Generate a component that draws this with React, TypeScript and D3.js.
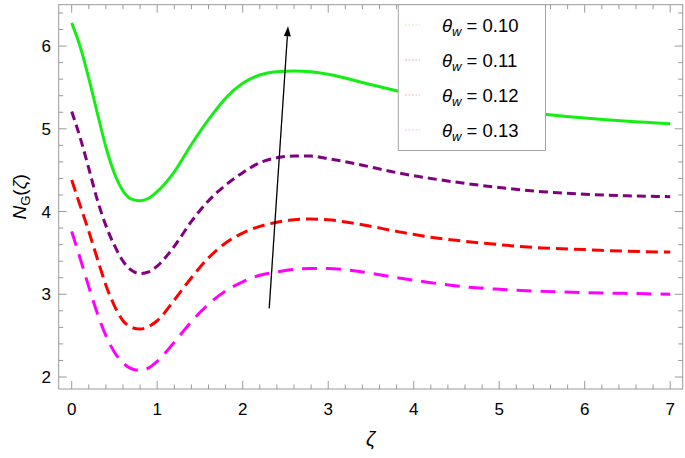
import * as d3 from 'd3'

// sample positions along zeta, shared by all four curves
const zeta = [0, 0.1, 0.2, 0.3, 0.4, 0.5, 0.6, 0.7, 0.8, 0.9, 1.0, 1.2, 1.4, 1.6, 1.8, 2.0, 2.2, 2.4, 2.6, 2.8, 3.0, 3.4, 3.8, 4.2, 4.6, 5.0, 5.5, 6.0, 6.5, 7.0]

const ng010 = [6.28, 5.99, 5.61, 5.19, 4.78, 4.46, 4.25, 4.15, 4.13, 4.16, 4.24, 4.48, 4.81, 5.11, 5.37, 5.55, 5.65, 5.69, 5.7, 5.69, 5.66, 5.56, 5.46, 5.37, 5.3, 5.24, 5.18, 5.13, 5.09, 5.06]
const ng011 = [5.21, 4.89, 4.52, 4.14, 3.83, 3.59, 3.4, 3.29, 3.25, 3.27, 3.34, 3.58, 3.88, 4.13, 4.32, 4.47, 4.59, 4.65, 4.67, 4.67, 4.64, 4.56, 4.47, 4.4, 4.34, 4.29, 4.24, 4.21, 4.19, 4.18]
const ng012 = [4.38, 4.07, 3.76, 3.43, 3.11, 2.86, 2.68, 2.6, 2.58, 2.61, 2.68, 2.93, 3.2, 3.44, 3.62, 3.74, 3.82, 3.87, 3.9, 3.91, 3.9, 3.84, 3.76, 3.69, 3.64, 3.6, 3.56, 3.54, 3.52, 3.51]
const ng013 = [3.76, 3.43, 3.09, 2.77, 2.5, 2.3, 2.17, 2.1, 2.08, 2.11, 2.19, 2.42, 2.67, 2.88, 3.04, 3.15, 3.23, 3.27, 3.3, 3.31, 3.31, 3.27, 3.2, 3.14, 3.09, 3.06, 3.035, 3.02, 3.01, 3.0]

const thetaLabels = ['0.10', '0.11', '0.12', '0.13']
const seriesColors = ['#14ee14', '#800080', '#ff0000', '#ff00ff']
const seriesDash = ['', '9,5', '12,6', '15,9']

const xTicks = [0, 1, 2, 3, 4, 5, 6, 7]
const yTicks = [2, 3, 4, 5, 6]

// arrow (data coordinates): tail -> head
const arrowFrom = [2.31, 2.83]
const arrowTo = [2.53, 6.24]

const W = 685
const H = 458
const frame = { left: 58.7, right: 682.7, top: 4.7, bottom: 389 }

export default function App() {
  const x = d3.scaleLinear().domain([-0.152, 7.146]).range([frame.left, frame.right])
  const y = d3.scaleLinear().domain([1.855, 6.5]).range([frame.bottom, frame.top])

  const series = [ng010, ng011, ng012, ng013]
  const line = d3
    .line<number>()
    .x((_, i) => x(zeta[i]))
    .y((d) => y(d))
    .curve(d3.curveMonotoneX)

  const xMinor = d3.range(0, 36).map((i) => i * 0.2).filter((v) => v <= 7.146)
  const yMinor = d3.range(10, 33).map((i) => i * 0.2).filter((v) => v <= 6.5)
  const isMajor = (v: number) => Math.abs(v - Math.round(v)) < 1e-6

  const tickColor = '#9a9a9a'

  const ax1 = x(arrowFrom[0])
  const ay1 = y(arrowFrom[1])
  const ax2 = x(arrowTo[0])
  const ay2 = y(arrowTo[1])
  const ang = Math.atan2(ay2 - ay1, ax2 - ax1)
  const headLen = 10
  const headW = 3.5
  const bx = ax2 - headLen * Math.cos(ang)
  const by = ay2 - headLen * Math.sin(ang)
  const head = [
    [ax2, ay2],
    [bx + headW * Math.sin(ang), by - headW * Math.cos(ang)],
    [bx - headW * Math.sin(ang), by + headW * Math.cos(ang)],
  ]

  const font = "'Liberation Sans', Arial, sans-serif"
  const legendRows = [25, 60, 95, 130]

  return (
    <svg
      width={W}
      height={H}
      style={{ position: 'absolute', left: 0, top: 0, background: '#fff' }}
      fontFamily={font}
    >
      <rect x={0} y={0} width={W} height={H} fill="#fff" />

      {/* curves */}
      {series.map((s, i) => (
        <path
          key={i}
          d={line(s) || ''}
          fill="none"
          stroke={seriesColors[i]}
          strokeWidth={3}
          strokeDasharray={seriesDash[i] || undefined}
        />
      ))}

      {/* arrow */}
      <line x1={ax1} y1={ay1} x2={bx} y2={by} stroke="#000" strokeWidth={1.3} />
      <polygon points={head.map((p) => p.join(',')).join(' ')} fill="#000" />

      {/* frame */}
      <rect
        x={frame.left}
        y={frame.top}
        width={frame.right - frame.left}
        height={frame.bottom - frame.top}
        fill="none"
        stroke={tickColor}
        strokeWidth={1}
      />

      {/* x ticks bottom and top */}
      {xMinor.map((v) => {
        const len = isMajor(v) ? 8 : 4.5
        return (
          <g key={'xt' + v} stroke={tickColor} strokeWidth={1}>
            <line x1={x(v)} x2={x(v)} y1={frame.bottom} y2={frame.bottom - len} />
            <line x1={x(v)} x2={x(v)} y1={frame.top} y2={frame.top + len} />
          </g>
        )
      })}
      {/* y ticks left and right */}
      {yMinor.map((v) => {
        const len = isMajor(v) ? 8 : 4.5
        return (
          <g key={'yt' + v} stroke={tickColor} strokeWidth={1}>
            <line x1={frame.left} x2={frame.left + len} y1={y(v)} y2={y(v)} />
            <line x1={frame.right} x2={frame.right - len} y1={y(v)} y2={y(v)} />
          </g>
        )
      })}

      {/* tick labels */}
      {xTicks.map((t) => (
        <text key={'xl' + t} x={x(t)} y={415} textAnchor="middle" fontSize={17} fill="#000">
          {t}
        </text>
      ))}
      {yTicks.map((t) => (
        <text key={'yl' + t} x={51} y={y(t) + 6} textAnchor="end" fontSize={17} fill="#000">
          {t}
        </text>
      ))}

      {/* axis labels */}
      <text x={(frame.left + frame.right) / 2} y={446} textAnchor="middle" fontSize={20} fontStyle="italic" fill="#000">
        ζ
      </text>
      <text
        transform={`translate(26,${(frame.top + frame.bottom) / 2}) rotate(-90)`}
        textAnchor="middle"
        fontSize={19}
        fill="#000"
      >
        <tspan fontStyle="italic">N</tspan>
        <tspan fontSize={13} dy={4}>G</tspan>
        <tspan dy={-4}>(</tspan>
        <tspan fontStyle="italic">ζ</tspan>
        <tspan>)</tspan>
      </text>

      {/* legend */}
      <rect x={398.3} y={4.7} width={147.2} height={145.8} fill="#fff" stroke="#a5a5a5" strokeWidth={1} />
      {thetaLabels.map((lab, i) => (
        <g key={'lg' + lab}>
          <line
            x1={405}
            x2={420}
            y1={legendRows[i]}
            y2={legendRows[i]}
            stroke={seriesColors[i]}
            strokeOpacity={0.3}
            strokeWidth={1}
            strokeDasharray="2,1.5"
          />
          <text x={442} y={legendRows[i] + 6.5} fontSize={18.5} fill="#000">
            <tspan fontStyle="italic">θ</tspan>
            <tspan fontStyle="italic" fontSize={13} dy={4}>w</tspan>
            <tspan dy={-4}> = {lab}</tspan>
          </text>
        </g>
      ))}
    </svg>
  )
}
